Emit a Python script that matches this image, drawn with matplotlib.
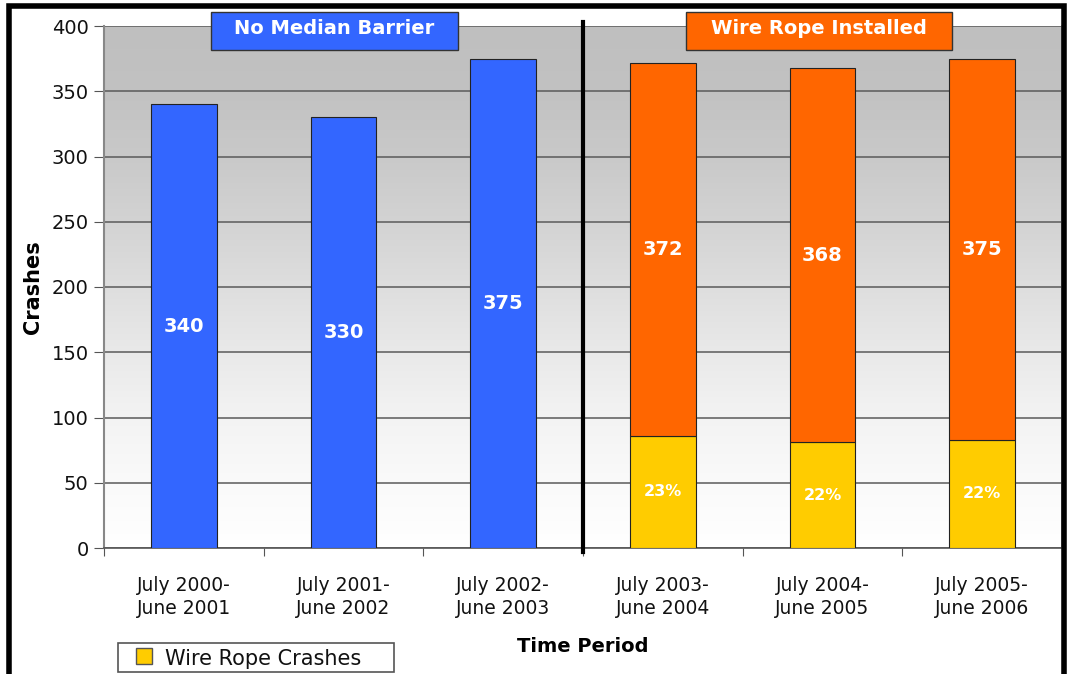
import numpy as np
import matplotlib
matplotlib.use("Agg")
import matplotlib.pyplot as plt
from matplotlib.patches import Rectangle

periods = ["July 2000-\nJune 2001", "July 2001-\nJune 2002", "July 2002-\nJune 2003",
           "July 2003-\nJune 2004", "July 2004-\nJune 2005", "July 2005-\nJune 2006"]
before_totals = [340, 330, 375]
after_totals = [372, 368, 375]
wire_rope = [86, 81, 83]
wire_pct = ["23%", "22%", "22%"]
legend_label = "Wire Rope Crashes"

BLUE = "#3366FF"
ORANGE = "#FF6600"
YELLOW = "#FFCC00"

plt.rcParams['font.family'] = ['DejaVu Sans']

fig = plt.figure(figsize=(10.68, 6.74), dpi=100)
W, H = 1068, 674
ax = fig.add_axes([104 / W, 1 - 548 / H, (1062 - 104) / W, (548 - 26) / H])

# background: gray at the top fading to white at the bottom
grad = np.linspace(0, 1, 512).reshape(-1, 1)
cmap = matplotlib.colors.LinearSegmentedColormap.from_list(
    "bg", [(0.0, "#bfbfbf"), (0.125, "#c2c2c2"), (0.25, "#c9c9c9"), (0.375, "#d3d3d3"),
           (0.5, "#dedede"), (0.625, "#e9e9e9"), (0.75, "#f3f3f3"), (0.875, "#fafafa"),
           (1.0, "#ffffff")])
ax.imshow(grad, aspect="auto", cmap=cmap, extent=[0, 1, 0, 1], transform=ax.transAxes, zorder=0)

x_before = np.arange(3)
x_after = np.arange(3, 6)
bw = 0.41

ax.bar(x_before, before_totals, bw, color=BLUE, edgecolor="#222222", lw=0.8, zorder=3)
orange = [t - w for t, w in zip(after_totals, wire_rope)]
ax.bar(x_after, wire_rope, bw, color=YELLOW, edgecolor="#222222", lw=0.8, zorder=3)
ax.bar(x_after, orange, bw, bottom=wire_rope, color=ORANGE, edgecolor="#222222", lw=0.8, zorder=3)

for x, v in zip(x_before, before_totals):
    ax.text(x, v / 2, str(v), color="white", fontsize=14, fontweight="bold",
            ha="center", va="center", zorder=4)
for x, t, w, p in zip(x_after, after_totals, wire_rope, wire_pct):
    ax.text(x, (t + w) / 2, str(t), color="white", fontsize=14, fontweight="bold",
            ha="center", va="center", zorder=4)
    ax.text(x, w / 2, p, color="white", fontsize=11.5, fontweight="bold",
            ha="center", va="center", zorder=4)

ax.set_xlim(-0.5, 5.5)
ax.set_ylim(0, 400)
ax.set_yticks(range(0, 401, 50))
ax.yaxis.grid(True, color="#5a5a5a", lw=1.1, zorder=1)
ax.set_axisbelow(True)

ax.set_xticks(np.arange(-0.5, 6, 1))
ax.set_xticklabels([])
ax.set_xticks(np.arange(6), minor=True)
ax.set_xticklabels(periods, minor=True, fontsize=13.5, color="#111111", linespacing=1.25)
ax.tick_params(axis="x", which="minor", length=0, pad=20)
ax.tick_params(axis="x", which="major", length=6, color="#555555", direction="out")
ax.tick_params(axis="y", length=7, color="#555555", labelsize=14, labelcolor="#111111", pad=4)

for s in ["top", "right"]:
    ax.spines[s].set_visible(False)
ax.spines["left"].set_color("#888888")
ax.spines["left"].set_linewidth(1.5)
ax.spines["bottom"].set_color("#555555")
ax.spines["bottom"].set_linewidth(1.2)

# right edge of the plot area
ax.plot([1, 1], [0, 1], transform=ax.transAxes, color="#999999", lw=1.2, zorder=5, clip_on=False)

# separator between the two periods
ax.plot([2.5, 2.5], [-3, 403], color="black", lw=3, zorder=5, clip_on=False)

ax.set_ylabel("Crashes", fontsize=15, fontweight="bold", labelpad=6)
fig.text(583 / W, 1 - 647 / H, "Time Period", fontsize=14, fontweight="bold",
         ha="center", va="center")

# header boxes
for (x0, x1, label, col) in [(211, 458, "No Median Barrier", BLUE),
                             (686, 952, "Wire Rope Installed", ORANGE)]:
    fig.patches.append(Rectangle((x0 / W, 1 - 50 / H), (x1 - x0) / W, 38 / H,
                                 transform=fig.transFigure, facecolor=col,
                                 edgecolor="#333333", lw=1.0, zorder=10))
    fig.text((x0 + x1) / 2 / W, 1 - 29 / H, label, color="white", fontsize=14,
             fontweight="bold", ha="center", va="center", zorder=11)

# legend box drawn by hand (sits at the very bottom of the frame)
fig.patches.append(Rectangle((118 / W, 1 - 672 / H), (394 - 118) / W, 29 / H,
                             transform=fig.transFigure, facecolor="white",
                             edgecolor="#555555", lw=1.2, zorder=10))
fig.patches.append(Rectangle((136 / W, 1 - 664 / H), 16 / W, 16 / H,
                             transform=fig.transFigure, facecolor=YELLOW,
                             edgecolor="#555555", lw=1.0, zorder=11))
fig.text(165 / W, 1 - 659 / H, legend_label, fontsize=15, color="#111111",
         ha="left", va="center", zorder=11)

# outer black frame
fig.patches.append(Rectangle((9 / W, -0.01), (1064 - 9) / W, 1 - 6 / H + 0.01,
                             transform=fig.transFigure, fill=False, edgecolor="black",
                             lw=4, zorder=20))

fig.savefig("out.png", dpi=100)
